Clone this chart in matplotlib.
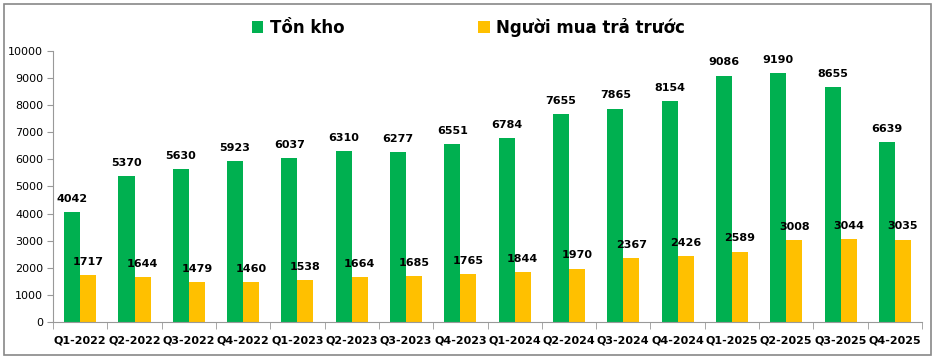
import matplotlib.pyplot as plt
from matplotlib.patches import Rectangle
import numpy as np

# quarters and values
quarters = ['Q1-2022', 'Q2-2022', 'Q3-2022', 'Q4-2022',
            'Q1-2023', 'Q2-2023', 'Q3-2023', 'Q4-2023',
            'Q1-2024', 'Q2-2024', 'Q3-2024', 'Q4-2024',
            'Q1-2025', 'Q2-2025', 'Q3-2025', 'Q4-2025']
ton_kho = [4042, 5370, 5630, 5923, 6037, 6310, 6277, 6551,
           6784, 7655, 7865, 8154, 9086, 9190, 8655, 6639]
nguoi_mua = [1717, 1644, 1479, 1460, 1538, 1664, 1685, 1765,
             1844, 1970, 2367, 2426, 2589, 3008, 3044, 3035]

green = '#00B050'
yellow = '#FFC000'

fig = plt.figure(figsize=(9.37, 3.61), dpi=100)
ax = fig.add_axes([0.0566, 0.108, 0.9274, 0.751])

x = np.arange(len(quarters))
w = 0.295
b1 = ax.bar(x - w / 2, ton_kho, w, color=green, label='Tồn kho')
b2 = ax.bar(x + w / 2, nguoi_mua, w, color=yellow, label='Người mua trả trước')

for bars in (b1, b2):
    for rect in bars:
        ax.annotate(str(int(rect.get_height())),
                    (rect.get_x() + rect.get_width() / 2, rect.get_height()),
                    xytext=(0, 6), textcoords='offset points',
                    ha='center', va='bottom', fontsize=8, fontweight='bold')

ax.set_xlim(-0.5, len(quarters) - 0.5)
ax.set_ylim(0, 10000)
ax.set_yticks(range(0, 10001, 1000))
ax.tick_params(axis='y', labelsize=8, length=4, color='#999999', pad=3)

# category labels centred, ticks between groups
ax.set_xticks(x)
ax.set_xticklabels(quarters, fontsize=8, fontweight='bold')
ax.tick_params(axis='x', which='major', length=0, pad=10)
ax.set_xticks(np.arange(-0.5, len(quarters)), minor=True)
ax.tick_params(axis='x', which='minor', length=5, color='#999999')

for s in ('top', 'right'):
    ax.spines[s].set_visible(False)
ax.spines['left'].set_color('#999999')
ax.spines['bottom'].set_color('#999999')

fig.legend(handles=[b1, b2], loc='center', bbox_to_anchor=(0.5, 0.925),
           ncol=2, frameon=False, handlelength=0.7, handleheight=0.7,
           handletextpad=0.4, columnspacing=8,
           prop={'size': 12, 'weight': 'bold'})

fig.patches.append(Rectangle((0.004, 0.017), 0.99, 0.972, transform=fig.transFigure,
                             fill=False, edgecolor='#888888', linewidth=1.2))

fig.savefig('out.png', dpi=100)
